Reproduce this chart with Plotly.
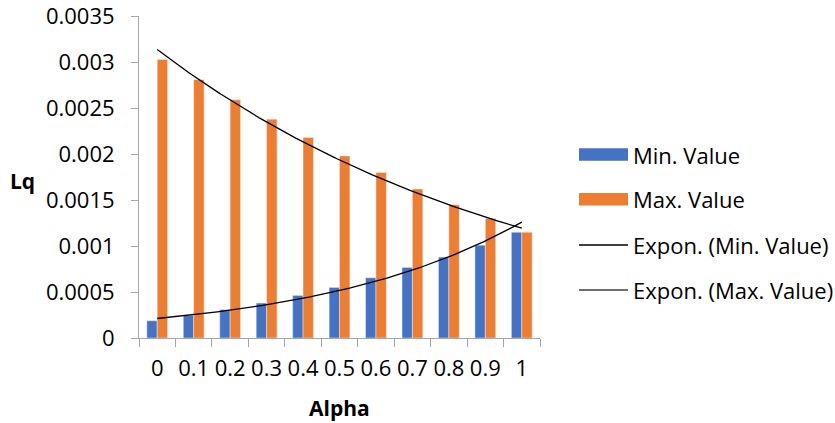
import numpy as np
import plotly.graph_objects as go

# Alpha categories and the Lq values for each
alpha_labels = ["0", "0.1", "0.2", "0.3", "0.4", "0.5", "0.6", "0.7", "0.8", "0.9", "1"]
min_value = [0.000188, 0.000246, 0.000308, 0.00038, 0.000463, 0.00055,
             0.000655, 0.000767, 0.00088, 0.00101, 0.00115]
max_value = [0.00303, 0.00281, 0.00259, 0.00238, 0.00218, 0.00198,
             0.0018, 0.00162, 0.00145, 0.0013, 0.00115]
y_tick_values = [0, 0.0005, 0.001, 0.0015, 0.002, 0.0025, 0.003, 0.0035]
y_tick_labels = ["0", "0.0005", "0.001", "0.0015", "0.002", "0.0025", "0.003", "0.0035"]

BLUE = "#4472C4"
ORANGE = "#ED7D31"
AXIS = "#a6a6a6"
FONT = "Open Sans"
FS = 22

W, H = 835, 423
L, R, T, B = 139, 295, 16, 85
PW, PH = W - L - R, H - T - B

idx = np.arange(len(alpha_labels))


def expon_trend(values):
    """Least-squares exponential trendline y = a*exp(b*x) on category positions."""
    b, ln_a = np.polyfit(idx + 1, np.log(values), 1)
    xs = np.linspace(0, len(values) - 1, 201)
    return xs, np.exp(ln_a) * np.exp(b * (xs + 1))


fig = go.Figure()
fig.add_trace(go.Bar(x=idx, y=min_value, name="Min. Value", marker_color=BLUE))
fig.add_trace(go.Bar(x=idx, y=max_value, name="Max. Value", marker_color=ORANGE))

for vals, name in [(min_value, "Expon. (Min. Value)"), (max_value, "Expon. (Max. Value)")]:
    xs, ys = expon_trend(vals)
    fig.add_trace(go.Scatter(x=xs, y=ys, mode="lines", name=name,
                             line=dict(color="black", width=1.3)))


def px_x(px):
    return (px - L) / PW


def px_y(py):
    return (H - B - py) / PH


# Legend drawn as swatches + labels on the right
shapes = []
annotations = []
legend_rows = [
    ("Min. Value", "bar", BLUE, 154.5),
    ("Max. Value", "bar", ORANGE, 199.3),
    ("Expon. (Min. Value)", "line", "black", 245),
    ("Expon. (Max. Value)", "line", "#404040", 290),
]
for text, kind, color, yc in legend_rows:
    if kind == "bar":
        shapes.append(dict(type="rect", xref="paper", yref="paper",
                           x0=px_x(579), x1=px_x(628), y0=px_y(yc + 6.3), y1=px_y(yc - 6.3),
                           fillcolor=color, line=dict(width=0)))
    else:
        shapes.append(dict(type="line", xref="paper", yref="paper",
                           x0=px_x(579), x1=px_x(628), y0=px_y(yc), y1=px_y(yc),
                           line=dict(color=color, width=1.5)))
    annotations.append(dict(text=text, xref="paper", yref="paper", x=px_x(631), y=px_y(yc),
                            xanchor="left", yanchor="middle", showarrow=False,
                            font=dict(family=FONT, size=FS, color="black")))

annotations.append(dict(text="<b>Lq</b>", xref="paper", yref="paper", x=px_x(23), y=px_y(181),
                        xanchor="center", yanchor="middle", showarrow=False,
                        font=dict(family=FONT, size=FS - 1, color="black")))
annotations.append(dict(text="<b>Alpha</b>", xref="paper", yref="paper", x=px_x(339), y=px_y(408),
                        xanchor="center", yanchor="middle", showarrow=False,
                        font=dict(family=FONT, size=FS - 1, color="black")))

fig.update_layout(
    width=W, height=H,
    margin=dict(l=L, r=R, t=T, b=B, pad=0, autoexpand=False),
    paper_bgcolor="white", plot_bgcolor="white",
    barmode="group", bargap=0.43, bargroupgap=0,
    showlegend=False,
    font=dict(family=FONT, size=FS, color="black"),
    shapes=shapes, annotations=annotations,
)
fig.update_xaxes(
    range=[-0.5, len(alpha_labels) - 0.5 + 1e-6],
    tickmode="array", tickvals=list(idx), ticktext=alpha_labels,
    ticks="", showgrid=False, zeroline=False,
    showline=True, linecolor=AXIS, linewidth=1,
    ticklabelstandoff=11, automargin=False,
    minor=dict(tickmode="linear", tick0=-0.5, dtick=1, ticks="outside",
               ticklen=8, tickcolor=AXIS, tickwidth=1, showgrid=False),
)
fig.update_yaxes(
    range=[0, 0.003502],
    tickmode="array", tickvals=y_tick_values, ticktext=y_tick_labels,
    ticks="outside", ticklen=7, tickcolor=AXIS, tickwidth=1,
    showgrid=False, zeroline=False,
    showline=True, linecolor=AXIS, linewidth=1,
    ticklabelstandoff=12, ticklabeloverflow="allow", automargin=False,
)

fig.write_html("out.html")
